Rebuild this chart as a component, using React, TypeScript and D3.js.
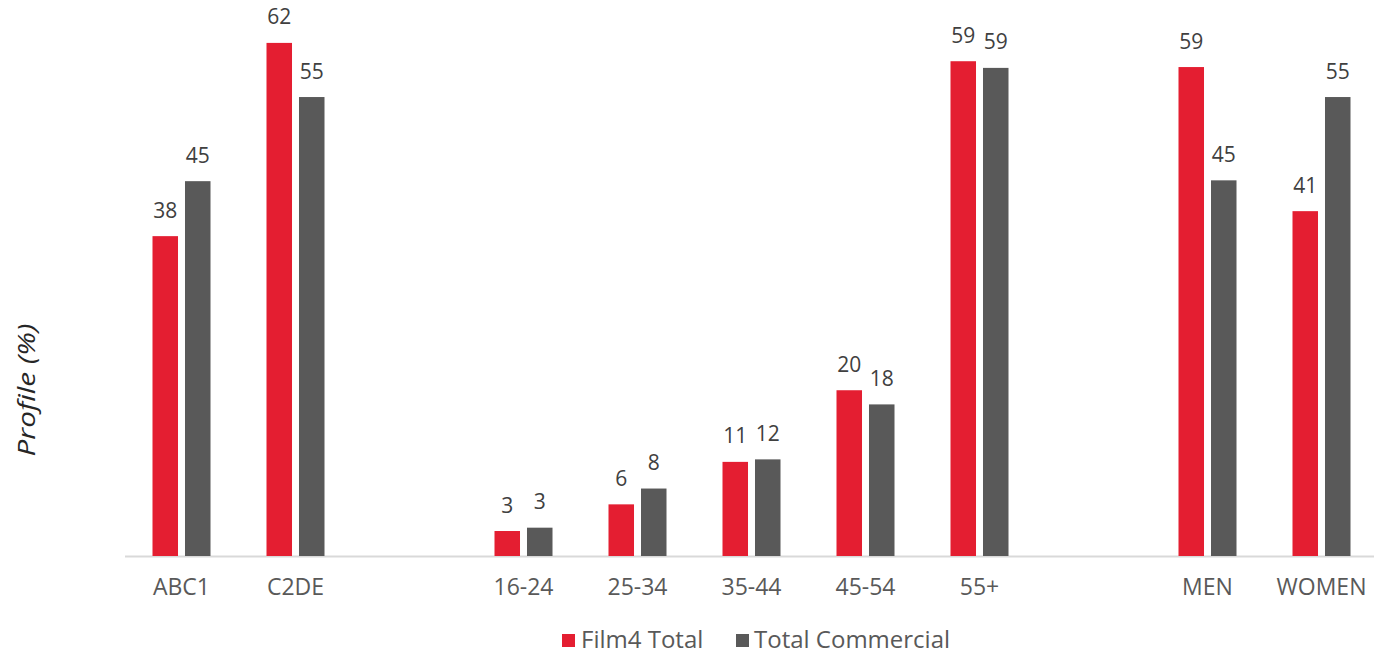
import React from "react";
import * as d3 from "d3";

const categories = ["ABC1", "C2DE", "_gap1", "16-24", "25-34", "35-44", "45-54", "55+", "_gap2", "MEN", "WOMEN"];
const tickLabels = ["ABC1", "C2DE", "", "16-24", "25-34", "35-44", "45-54", "55+", "", "MEN", "WOMEN"];
const seriesNames = ["Film4 Total", "Total Commercial"];
const film4Total = [38.4, 61.6, null, 3.0, 6.2, 11.3, 19.9, 59.4, null, 58.7, 41.4];
const totalCommercial = [45.0, 55.1, null, 3.4, 8.1, 11.6, 18.2, 58.6, null, 45.1, 55.1];
const colors = ["#E41E31", "#595959"];

const W = 1374;
const H = 655;

export default function App() {
  const x = d3.scaleBand<string>().domain(categories).range([124.5, 1378.5]).paddingInner(0).paddingOuter(0);
  const x1 = d3.scaleBand<string>().domain(seriesNames).range([-29, 29]).paddingInner(0.215);
  const y = d3.scaleLinear().domain([0, 66.75]).range([556, 0]);
  const fmt = d3.format(".0f");
  const seriesData = [film4Total, totalCommercial];

  return (
    <svg width={W} height={H} style={{ position: "absolute", left: 0, top: 0, background: "#fff" }}>
      <line x1={125} x2={1374} y1={556.5} y2={556.5} stroke="#D9D9D9" strokeWidth={2} />
      {seriesData.map((vals, si) =>
        vals.map((v, i) => {
          if (v == null) return null;
          const cx = (x(categories[i]) as number) + x.bandwidth() / 2;
          const bx = cx + (x1(seriesNames[si]) as number);
          const top = y(v);
          return (
            <g key={`${si}-${i}`}>
              <rect x={bx} y={top} width={x1.bandwidth()} height={y(0) - top} fill={colors[si]} />
              <text
                x={bx + x1.bandwidth() / 2}
                y={top - 18.5}
                textAnchor="middle"
                fontFamily="'Open Sans', sans-serif"
                fontSize={21}
                fill="#404040"
              >
                {fmt(v)}
              </text>
            </g>
          );
        })
      )}
      {categories.map((c, i) => (
        <text
          key={c}
          x={(x(c) as number) + x.bandwidth() / 2}
          y={595}
          textAnchor="middle"
          fontFamily="'Open Sans', sans-serif"
          fontSize={23}
          fill="#595959"
        >
          {tickLabels[i]}
        </text>
      ))}
      <text
        transform="translate(35,390) rotate(-90)"
        textAnchor="middle"
        fontFamily="'Open Sans', sans-serif"
        fontStyle="italic"
        fontSize={23}
        fill="#262626"
        textLength={133}
        lengthAdjust="spacingAndGlyphs"
      >
        Profile (%)
      </text>
      <g>
        <rect x={562} y={634} width={13} height={13} fill={colors[0]} />
        <text x={581} y={648} fontFamily="'Open Sans', sans-serif" fontSize={24} fill="#595959">
          {seriesNames[0]}
        </text>
        <rect x={736} y={634} width={13} height={13} fill={colors[1]} />
        <text x={754} y={648} fontFamily="'Open Sans', sans-serif" fontSize={24} fill="#595959">
          {seriesNames[1]}
        </text>
      </g>
    </svg>
  );
}
